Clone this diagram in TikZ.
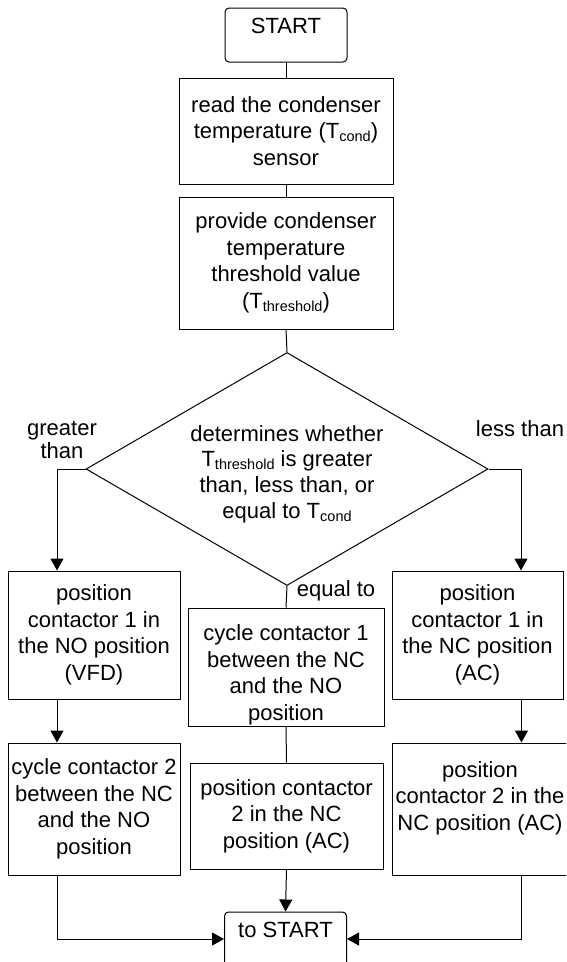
\documentclass[tikz,border=0pt]{standalone}
\usepackage{fontspec}
\setmainfont{Liberation Sans}
\usetikzlibrary{arrows.meta,shapes.geometric}
\newcommand{\sbs}[1]{\raisebox{-3pt}{\fontsize{14.5}{14.5}\selectfont #1}}
\tikzset{
  base/.style={draw, line width=1pt, inner sep=0pt, align=center,
    font=\fontsize{22}{26.5}\selectfont},
  box/.style={base, rectangle},
  term/.style={base, rectangle, rounded corners=4pt, minimum width=122pt, minimum height=54pt,
    text height=25pt, text depth=29pt},
  dec/.style={base, diamond, aspect=1.725, minimum width=402pt, minimum height=233pt,
    font=\fontsize{22}{25.7}\selectfont},
  lbl/.style={inner sep=0pt, align=center, font=\fontsize{22}{23}\selectfont},
  conn/.style={line width=1pt},
  arr/.style={line width=1pt, -{Triangle[width=13pt,length=12pt]}}
}
\begin{document}
\begin{tikzpicture}[x=1pt,y=-1pt]
\useasboundingbox (0,0) rectangle (566,962);
\clip (0,0) rectangle (566,962);

\node[term] (start) at (286,35) {START};
\node[box, minimum width=214pt, minimum height=106pt] (b1) at (286,131)
  {read the condenser\\temperature (T\sbs{cond})\\sensor};
\node[box, minimum width=214pt, minimum height=132pt] (b2) at (286,263)
  {provide condenser\\temperature\\threshold value\\(T\sbs{threshold})};
\node[dec] (dia) at (287,469)
  {\rule{0pt}{26pt}determines whether\\T\sbs{threshold} is greater\\than, less than, or\\equal to T\sbs{cond}};

\node[box, minimum width=172pt, minimum height=128pt] (lb1) at (94,635)
  {position\\contactor 1 in\\the NO position\\(VFD)};
\node[box, minimum width=196pt, minimum height=118pt] (mb1) at (286,667)
  {\rule{0pt}{32pt}cycle contactor 1\\between the NC\\and the NO\\position};
\node[box, minimum width=171pt, minimum height=128pt] (rb1) at (477.5,635)
  {position\\contactor 1 in\\the NC position\\(AC)};

\node[box, minimum width=172pt, minimum height=132pt] (lb2) at (94,809)
  {cycle contactor 2\\between the NC\\and the NO\\position};
\node[box, minimum width=193pt, minimum height=106pt] (mb2) at (286.5,816)
  {position contactor\\2 in the NC\\position (AC)};
\node[box, minimum width=176pt, minimum height=132pt] (rb2) at (480,809)
  {position\\contactor 2 in the\\NC position (AC)\\\mbox{}};

\node[term] (ts) at (285.5,939) {to START};

\node[lbl] (lgt) at (62,440) {greater\\than};
\node[lbl] (llt) at (520,429) {less than};
\node[lbl] (leq) at (336,591) {equal to};

\draw[conn] (start.south) -- (b1.north);
\draw[conn] (b1.south) -- (b2.north);
\draw[conn] (b2.south) -- (dia.north);
\draw[arr] (dia.west) -| ([xshift=-37pt]lb1.north);
\draw[arr] (dia.east) -| ([xshift=43.5pt]rb1.north);
\draw[conn] (dia.south) -- (mb1.north);
\draw[arr] ([xshift=-37pt]lb1.south) -- ([xshift=-37pt]lb2.north);
\draw[arr] ([xshift=44pt]rb1.south) -- ([xshift=44pt]rb1.south |- rb2.north);
\draw[conn] (mb1.south) -- (mb2.north);
\draw[arr] (mb2.south) -- (ts.north);
\draw[arr] ([xshift=-37pt]lb2.south) |- (ts.west);
\draw[arr] ([xshift=41.5pt]rb2.south) |- (ts.east);
\end{tikzpicture}
\end{document}
